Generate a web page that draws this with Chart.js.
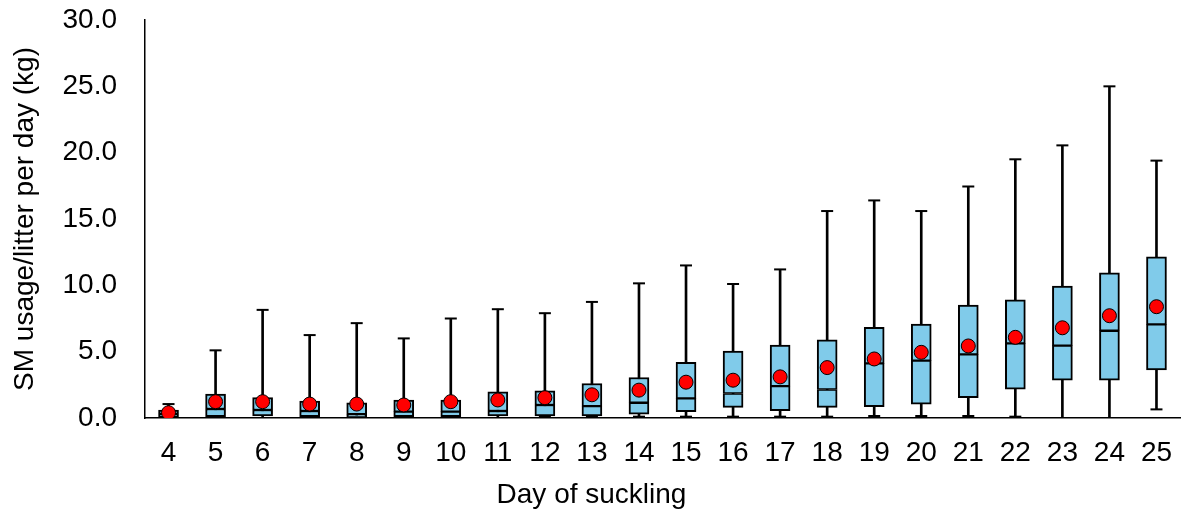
<!DOCTYPE html>
<html lang="en">
<head>
    <meta charset="UTF-8">
    <title>SM usage per litter</title>
    <script src="https://cdn.jsdelivr.net/npm/chart.js"></script>
    <style>
        body {
            margin: 0;
            background: #fff;
        }
        #wrap {
            width: 1188px;
            height: 515px;
        }
    </style>
</head>
<body>
    <div id="wrap"><canvas id="myChart"></canvas></div>

    <script>
        // Days of suckling
        const days = ['4','5','6','7','8','9','10','11','12','13','14','15','16','17','18','19','20','21','22','23','24','25'];

        // Box plot values (kg)
        const minVals  = [0.0, 0.0, 0.0, 0.0, 0.0, 0.0, 0.0, 0.0, 0.1, 0.1, 0.1, 0.1, 0.1, 0.1, 0.1, 0.15, 0.15, 0.15, 0.1, 0.0, 0.0, 0.65];
        const q1Vals   = [0.05, 0.1, 0.15, 0.1, 0.05, 0.1, 0.1, 0.15, 0.15, 0.15, 0.28, 0.48, 0.8, 0.55, 0.8, 0.85, 1.05, 1.53, 2.18, 2.86, 2.86, 3.62];
        const medVals  = [0.3, 0.68, 0.6, 0.53, 0.28, 0.48, 0.48, 0.53, 0.98, 0.9, 1.15, 1.48, 1.85, 2.4, 2.15, 4.12, 4.32, 4.8, 5.63, 5.45, 6.58, 7.06];
        const q3Vals   = [0.6, 1.8, 1.53, 1.28, 1.15, 1.36, 1.36, 1.98, 2.05, 2.6, 3.05, 4.2, 5.05, 5.5, 5.9, 6.83, 7.08, 8.52, 8.9, 9.95, 10.95, 12.15];
        const maxVals  = [1.05, 5.1, 8.15, 6.25, 7.15, 6.0, 7.5, 8.2, 7.9, 8.75, 10.15, 11.5, 10.1, 11.2, 15.6, 16.4, 15.6, 17.45, 19.5, 20.55, 25.0, 19.4];
        const meanVals = [0.4, 1.23, 1.23, 1.05, 1.05, 0.98, 1.23, 1.36, 1.53, 1.75, 2.1, 2.7, 2.85, 3.1, 3.8, 4.45, 4.95, 5.43, 6.08, 6.8, 7.71, 8.39];

        const yTicks = [0, 5, 10, 15, 20, 25, 30];

        const boxColor = '#80CBEA';
        const fontName = "'Liberation Sans', Arial, sans-serif";

        const whiskers = days.map((_, i) => [minVals[i], maxVals[i]]);
        const lowerBox = days.map((_, i) => [q1Vals[i], medVals[i]]);
        const upperBox = days.map((_, i) => [medVals[i], q3Vals[i]]);

        const ctx = document.getElementById('myChart').getContext('2d');
        new Chart(ctx, {
            type: 'bar',
            data: {
                labels: days,
                datasets: [
                    {
                        type: 'line',
                        label: 'Mean',
                        data: meanVals,
                        showLine: false,
                        pointRadius: 7,
                        pointBackgroundColor: '#FF0000',
                        pointBorderColor: '#000',
                        pointBorderWidth: 1,
                        order: 0
                    },
                    {
                        type: 'line',
                        label: 'Max',
                        data: maxVals,
                        showLine: false,
                        pointStyle: 'line',
                        pointRadius: 6,
                        pointBorderColor: '#000',
                        pointBorderWidth: 2,
                        order: 1
                    },
                    {
                        type: 'line',
                        label: 'Min',
                        data: minVals,
                        showLine: false,
                        pointStyle: 'line',
                        pointRadius: 6,
                        pointBorderColor: '#000',
                        pointBorderWidth: 2,
                        order: 1
                    },
                    {
                        label: 'Q3',
                        data: upperBox,
                        backgroundColor: boxColor,
                        borderColor: '#000',
                        borderWidth: { top: 2, left: 2, right: 2, bottom: 1.5 },
                        borderSkipped: false,
                        barThickness: 20,
                        grouped: false,
                        order: 2
                    },
                    {
                        label: 'Q1',
                        data: lowerBox,
                        backgroundColor: boxColor,
                        borderColor: '#000',
                        borderWidth: { top: 1.5, left: 2, right: 2, bottom: 2 },
                        borderSkipped: false,
                        barThickness: 20,
                        grouped: false,
                        order: 2
                    },
                    {
                        label: 'Range',
                        data: whiskers,
                        backgroundColor: '#000',
                        barThickness: 2,
                        grouped: false,
                        order: 3
                    }
                ]
            },
            options: {
                responsive: true,
                maintainAspectRatio: false,
                animation: false,
                layout: {
                    padding: { top: 20, right: 5, left: 0, bottom: 0 }
                },
                plugins: {
                    legend: { display: false },
                    tooltip: { enabled: false },
                    // x axis title, centred on the whole figure like the original
                    title: {
                        display: true,
                        position: 'bottom',
                        text: 'Day of suckling',
                        color: '#000',
                        padding: { top: 0, bottom: 3 },
                        font: { family: fontName, size: 28, weight: 'normal' }
                    }
                },
                scales: {
                    x: {
                        grid: { drawOnChartArea: false, drawTicks: false },
                        border: { display: true, color: '#000', width: 1.5 },
                        ticks: {
                            color: '#000',
                            padding: 18,
                            maxRotation: 0,
                            autoSkip: false,
                            font: { family: fontName, size: 28 }
                        },
                        afterFit: (scale) => {
                            scale.height = 60.4;
                            scale.paddingLeft = 0;
                            scale.paddingRight = 0;
                        }
                    },
                    y: {
                        min: 0,
                        max: 30,
                        grid: { drawOnChartArea: false, drawTicks: false },
                        border: { display: true, color: '#000', width: 1.5 },
                        afterBuildTicks: (axis) => {
                            axis.ticks = yTicks.map(v => ({ value: v }));
                        },
                        ticks: {
                            color: '#000',
                            padding: 28,
                            font: { family: fontName, size: 28 },
                            callback: (v) => Number(v).toFixed(1)
                        },
                        title: {
                            display: true,
                            text: 'SM usage/litter per day (kg)',
                            color: '#000',
                            padding: { top: 8, bottom: 0 },
                            font: { family: fontName, size: 28 }
                        },
                        afterFit: (scale) => {
                            scale.width = 145;
                            scale.paddingTop = 0;
                            scale.paddingBottom = 0;
                        }
                    }
                }
            }
        });
    </script>
</body>
</html>
